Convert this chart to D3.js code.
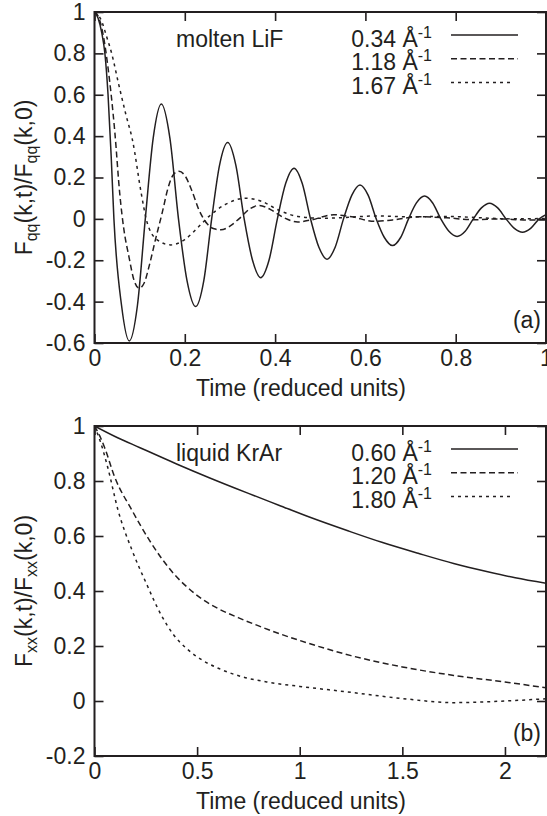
<!DOCTYPE html>
<html>
<head>
<meta charset="utf-8">
<script src="https://cdn.jsdelivr.net/npm/d3@7"></script>
<style>
  body { margin: 0; background: #fff; }
  svg { display: block; font-family: "Liberation Sans", Arial, sans-serif; }
  .tick text { font-size: 23px; fill: #231f20; }
</style>
</head>
<body>
<svg id="chart" width="547" height="816"></svg>
<script>
// ---- data ----
const lif034 = [[0,1],[0.008,0.97],[0.016,0.9],[0.023,0.8],[0.03,0.6],[0.037,0.3],[0.043,0],[0.06,-0.42],[0.077,-0.59],
  [0.095,-0.42],[0.1125,0],[0.13,0.39],[0.148,0.555],[0.167,0.39],[0.186,0],[0.205,-0.3],[0.224,-0.424],[0.242,-0.3],
  [0.2595,0],[0.277,0.26],[0.295,0.369],[0.313,0.26],[0.3315,0],[0.35,-0.2],[0.368,-0.284],[0.3865,-0.2],[0.405,0],
  [0.4235,0.172],[0.442,0.245],[0.46,0.172],[0.4785,0],[0.497,-0.137],[0.515,-0.195],[0.533,-0.137],[0.5515,0],
  [0.57,0.115],[0.588,0.164],[0.606,0.115],[0.624,0],[0.642,-0.09],[0.66,-0.129],[0.678,-0.09],[0.6955,0],
  [0.713,0.077],[0.731,0.11],[0.749,0.077],[0.767,0],[0.785,-0.06],[0.803,-0.085],[0.821,-0.06],[0.839,0],
  [0.857,0.053],[0.875,0.076],[0.893,0.053],[0.9115,0],[0.93,-0.046],[0.948,-0.065],[0.966,-0.046],[0.985,0],[1,0.02]];
const lif118 = [[0,1],[0.01,0.97],[0.02,0.88],[0.03,0.73],[0.045,0.42],[0.056,0.12],[0.065,-0.05],[0.076,-0.18],
  [0.088,-0.3],[0.099,-0.335],[0.11,-0.31],[0.122,-0.22],[0.135,-0.1],[0.15,0.03],[0.163,0.15],[0.175,0.215],
  [0.187,0.23],[0.2,0.21],[0.215,0.14],[0.232,0.04],[0.25,-0.025],[0.265,-0.048],[0.28,-0.053],[0.3,-0.035],
  [0.32,0],[0.345,0.05],[0.365,0.065],[0.39,0.045],[0.42,0.005],[0.45,-0.015],[0.48,-0.005],[0.53,0.02],
  [0.57,0.01],[0.62,-0.012],[0.66,-0.005],[0.72,0.01],[0.78,0.005],[0.84,-0.004],[0.9,0],[0.95,-0.005],[1,-0.005]];
const lif167 = [[0,1],[0.015,0.96],[0.027,0.88],[0.038,0.8],[0.053,0.656],[0.07,0.5],[0.084,0.382],[0.1035,0.124],
  [0.115,-0.005],[0.138,-0.1],[0.169,-0.126],[0.2,-0.1],[0.231,-0.037],[0.253,0.011],[0.29,0.07],[0.335,0.1],
  [0.37,0.085],[0.41,0.04],[0.45,0.012],[0.5,0.003],[0.55,0.006],[0.62,0.014],[0.7,0.01],[0.78,0.012],
  [0.85,0.006],[0.92,0],[1,0.002]];

const krar060 = [[0,1],[0.1,0.962],[0.219,0.922],[0.4,0.862],[0.559,0.812],[0.75,0.755],[0.898,0.712],[1.05,0.668],
  [1.238,0.618],[1.4,0.577],[1.577,0.537],[1.75,0.5],[1.916,0.47],[2.05,0.448],[2.2,0.428]];
const krar120 = [[0,1],[0.025,0.965],[0.05,0.92],[0.098,0.815],[0.183,0.693],[0.268,0.584],[0.386,0.463],
  [0.45,0.415],[0.522,0.372],[0.6,0.337],[0.7,0.303],[0.8,0.273],[0.9,0.245],[1,0.22],[1.25,0.165],[1.5,0.124],
  [1.75,0.093],[2,0.069],[2.2,0.048]];
const krar180 = [[0,1],[0.03,0.94],[0.064,0.851],[0.115,0.693],[0.183,0.548],[0.251,0.43],[0.327,0.31],[0.386,0.24],
  [0.45,0.19],[0.522,0.15],[0.6,0.12],[0.725,0.087],[0.85,0.068],[1,0.053],[1.234,0.033],[1.5,0.009],
  [1.75,-0.006],[2,0],[2.2,0.008]];

const lifLabels = ['0.34', '1.18', '1.67'];
const krarLabels = ['0.60', '1.20', '1.80'];
const xTicksA = [0, 0.2, 0.4, 0.6, 0.8, 1];
const yTicksA = [-0.6, -0.4, -0.2, 0, 0.2, 0.4, 0.6, 0.8, 1];
const xTicksB = [0, 0.5, 1, 1.5, 2];
const yTicksB = [-0.2, 0, 0.2, 0.4, 0.6, 0.8, 1];

// ---- drawing ----
const ink = '#231f20';
const fs = 23;
const dashes = [null, '6,3.5', '3,4'];
const svg = d3.select('#chart');

function drawPanel(opt) {
    const x = d3.scaleLinear().domain(opt.xDomain).range([94.5, 546]);
    const y = d3.scaleLinear().domain(opt.yDomain).range([opt.bottom, opt.top]);
    const g = svg.append('g');

    //clip
    g.append('clipPath').attr('id', opt.id)
        .append('rect')
        .attr('x', x.range()[0]).attr('y', opt.top)
        .attr('width', x.range()[1] - x.range()[0])
        .attr('height', opt.bottom - opt.top);

    //axes, ticks pointing inward
    const fmt = d => String(d);
    g.append('g').attr('transform', `translate(0,${opt.bottom})`)
        .call(d3.axisBottom(x).tickValues(opt.xTicks).tickFormat(fmt).tickSizeInner(-9).tickSizeOuter(0).tickPadding(6.5));
    g.append('g').attr('transform', `translate(0,${opt.top})`)
        .call(d3.axisTop(x).tickValues(opt.xTicks).tickFormat('').tickSizeInner(-9).tickSizeOuter(0));
    g.append('g').attr('transform', `translate(${x.range()[0]},0)`)
        .call(d3.axisLeft(y).tickValues(opt.yTicks).tickFormat(fmt).tickSizeInner(-9).tickSizeOuter(0).tickPadding(9));
    g.append('g').attr('transform', `translate(${x.range()[1]},0)`)
        .call(d3.axisRight(y).tickValues(opt.yTicks).tickFormat('').tickSizeInner(-9).tickSizeOuter(0));
    g.selectAll('.domain').remove();
    g.selectAll('.tick line').attr('stroke', ink).attr('stroke-width', 1.6);
    g.selectAll('.tick text').attr('fill', ink);

    //curves
    const line = d3.line()
        .x(d => x(d[0]))
        .y(d => y(d[1]))
        .curve(d3.curveMonotoneX);
    g.append('g').attr('clip-path', `url(#${opt.id})`)
        .selectAll('path')
        .data(opt.series)
        .join('path')
        .attr('d', d => line(d))
        .attr('fill', 'none')
        .attr('stroke', ink)
        .attr('stroke-width', 1.5)
        .attr('stroke-dasharray', (d, i) => dashes[i]);

    //frame
    g.append('rect')
        .attr('x', x.range()[0]).attr('y', opt.top)
        .attr('width', x.range()[1] - x.range()[0])
        .attr('height', opt.bottom - opt.top)
        .attr('fill', 'none')
        .attr('stroke', ink)
        .attr('stroke-width', 2);

    //legend
    opt.labels.forEach((lab, i) => {
        const ly = opt.top + 23 + i * 23.8;
        const t = g.append('text')
            .attr('x', 432).attr('y', ly + 11.5)
            .attr('text-anchor', 'end')
            .attr('font-size', fs).attr('fill', ink);
        t.append('tspan').text(lab + ' \u00c5');
        t.append('tspan').attr('font-size', 16).attr('dy', -9).text('-1');
        g.append('line')
            .attr('x1', 451).attr('x2', i === 2 ? 514 : 518)
            .attr('y1', ly).attr('y2', ly)
            .attr('stroke', ink).attr('stroke-width', 1.5)
            .attr('stroke-dasharray', dashes[i]);
    });

    g.append('text')
        .attr('x', 176).attr('y', opt.top + 34.5)
        .attr('font-size', fs).attr('fill', ink)
        .text(opt.title);

    g.append('text')
        .attr('x', 541).attr('y', opt.bottom - 15)
        .attr('text-anchor', 'end')
        .attr('font-size', fs).attr('fill', ink)
        .text(opt.tag);

    //axis titles
    g.append('text')
        .attr('x', 301).attr('y', opt.bottom + 53)
        .attr('text-anchor', 'middle')
        .attr('font-size', fs).attr('fill', ink)
        .text('Time (reduced units)');

    const yt = g.append('text')
        .attr('transform', `translate(32,${(opt.top + opt.bottom) / 2}) rotate(-90)`)
        .attr('text-anchor', 'middle')
        .attr('font-size', fs).attr('fill', ink);
    yt.append('tspan').text('F');
    yt.append('tspan').attr('font-size', 16).attr('dy', 5).text(opt.sub);
    yt.append('tspan').attr('dy', -5).text('(k,t)/F');
    yt.append('tspan').attr('font-size', 16).attr('dy', 5).text(opt.sub);
    yt.append('tspan').attr('dy', -5).text('(k,0)');
}

drawPanel({
    id: 'clipA', top: 12, bottom: 343,
    xDomain: [0, 1], yDomain: [-0.6, 1],
    xTicks: xTicksA, yTicks: yTicksA,
    series: [lif034, lif118, lif167],
    labels: lifLabels, title: 'molten LiF', tag: '(a)', sub: 'qq'
});

drawPanel({
    id: 'clipB', top: 426, bottom: 756,
    xDomain: [0, 2.2], yDomain: [-0.2, 1],
    xTicks: xTicksB, yTicks: yTicksB,
    series: [krar060, krar120, krar180],
    labels: krarLabels, title: 'liquid KrAr', tag: '(b)', sub: 'xx'
});
</script>
</body>
</html>
